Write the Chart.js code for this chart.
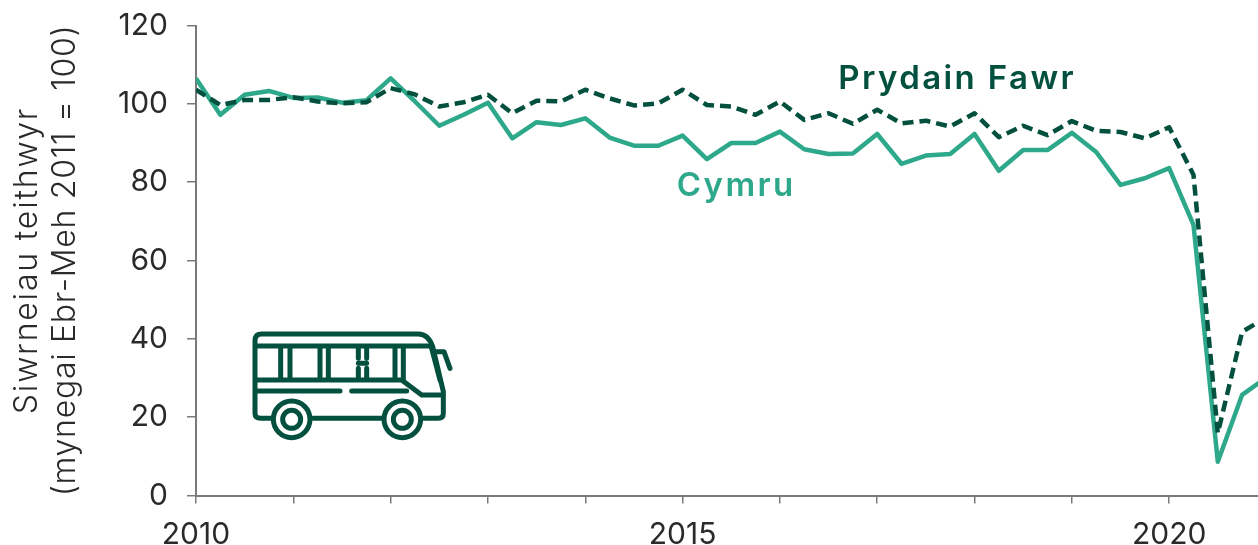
<!DOCTYPE html>
<html><head><meta charset="utf-8">
<style>html,body{margin:0;padding:0;background:#fff;overflow:hidden}#w{position:relative;width:1258px;height:545px}canvas{display:block}svg{position:absolute;left:240px;top:320px}</style>
<script src="https://cdn.jsdelivr.net/npm/chart.js@4"></script></head><body>
<div id="w"><canvas id="c" width="1258" height="545"></canvas>
<svg width="220" height="130" viewBox="0 0 660 390" fill="none" stroke="#03503f" stroke-width="15" stroke-linecap="round" stroke-linejoin="round">
<path d="M95 295H62Q45 295 45 280V62Q45 42 65 42H535Q565 42 578 80L610 215V280Q610 295 595 295H550M220 295H425"/>
<path d="M48 78H570M48 180H485L545 225H608M48 213H300M335 213H500M585 95H612L630 145"/>
<path d="M122 85V175M150 85V175M240 85V175M265 85V175M355 85V115M380 85V115M355 145V175M380 145V175M355 130H380M465 85V175M490 85V178M575 85L600 180"/>
<circle cx="155" cy="298" r="55" fill="#fff"/><circle cx="155" cy="298" r="27"/>
<circle cx="487" cy="298" r="55" fill="#fff"/><circle cx="487" cy="298" r="27"/>
</svg></div>
<script>
const startYear = 2010;
const labelledYears = [2010, 2015, 2020];
const yTicks = [0, 20, 40, 60, 80, 100, 120];
const quarters = Array.from({length: 45}, (_, i) => startYear + i / 4);
const cymru = [106.5,97.2,102.3,103.3,101.5,101.6,100.3,100.9,106.5,100.6,94.4,97.2,100.3,91.2,95.3,94.6,96.3,91.4,89.3,89.3,91.9,85.9,90,90,92.9,88.4,87.2,87.3,92.3,84.7,86.8,87.2,92.3,82.9,88.2,88.2,92.6,87.7,79.3,81,83.6,69.1,8.6,25.7,30.1];
const prydain = [103.6,99.7,101,101,101.7,100.6,100.1,100.4,104,102.4,99.3,100.4,102.3,97.6,100.8,100.6,103.6,101.4,99.6,100.1,103.6,99.7,99.3,97.2,100.6,95.9,97.6,94.9,98.5,95,95.7,94.2,97.6,91.5,94.4,92,95.6,93.1,92.8,91.2,94,81.9,15.9,41.8,45.5];
const yTitleLines = ['Siwrneiau teithwyr', '(mynegai Ebr-Meh 2011 = 100)'];
const DARK = '#03503f', GREEN = '#2ea88a', TXT = '#2a2a2a', AXIS = '#7a7a7a';
const FONT = 'Inter, sans-serif';
const toPts = a => a.map((v, i) => ({x: quarters[i], y: v}));
const textLayer = {
  id: 'textLayer',
  afterDatasetsDraw(ch) {
    const {ctx, scales: {x, y}} = ch;
    ctx.save();
    ctx.textAlign = 'left'; ctx.textBaseline = 'middle';
    ctx.font = '600 33px ' + FONT;
    ctx.letterSpacing = '2.4px';
    ctx.fillStyle = DARK; ctx.fillText('Prydain Fawr', x.getPixelForValue(2016.6), y.getPixelForValue(106.2));
    ctx.fillStyle = GREEN; ctx.fillText('Cymru', x.getPixelForValue(2015 - 0.06), y.getPixelForValue(79));
    ctx.restore();
    const cy = (y.top + y.bottom) / 2;
    [[37, 1.8], [75, 0.7]].forEach(([bx, sp], i) => {
      ctx.save();
      ctx.translate(bx, cy);
      ctx.rotate(-Math.PI / 2);
      ctx.textAlign = 'center'; ctx.textBaseline = 'alphabetic';
      ctx.font = '300 32px ' + FONT;
      ctx.letterSpacing = sp + 'px';
      ctx.fillStyle = TXT;
      ctx.fillText(yTitleLines[i], 0, 0);
      ctx.restore();
    });
  }
};
new Chart(document.getElementById('c'), {
  type: 'line',
  data: {datasets: [
    {label: 'Prydain Fawr', data: toPts(prydain), borderColor: DARK, borderWidth: 4.5, borderDash: [11, 6], pointRadius: 0, tension: 0, borderJoinStyle: 'round'},
    {label: 'Cymru', data: toPts(cymru), borderColor: GREEN, borderWidth: 4.5, pointRadius: 0, tension: 0, borderJoinStyle: 'round'}
  ]},
  plugins: [textLayer],
  options: {
    responsive: false, animation: false,
    layout: {padding: {top: 25.5, left: 0, right: 0, bottom: 0}},
    plugins: {legend: {display: false}, tooltip: {enabled: false}},
    scales: {
      x: {
        type: 'linear', min: 2010, max: 2020.913,
        afterFit(s) { s.height = 49.5; s.paddingLeft = 0; s.paddingRight = 0; },
        afterBuildTicks(s) { s.ticks = Array.from({length: 11}, (_, i) => ({value: startYear + i})); },
        grid: {display: true, drawOnChartArea: false, drawTicks: true, tickLength: 8, color: AXIS, lineWidth: 1.5},
        border: {color: AXIS, width: 2},
        ticks: {autoSkip: false, maxRotation: 0, padding: 13, color: TXT, font: {family: FONT, size: 30},
          callback: v => labelledYears.includes(v) ? String(v) : ''}
      },
      y: {
        min: 0, max: 120,
        afterFit(s) { s.width = 196; s.paddingTop = 0; s.paddingBottom = 0; },
        afterBuildTicks(s) { s.ticks = yTicks.map(v => ({value: v})); },
        grid: {display: true, drawOnChartArea: false, tickLength: 9, color: AXIS, lineWidth: 1.5},
        border: {color: AXIS, width: 2},
        ticks: {padding: 19, color: TXT, font: {family: FONT, size: 30}}
      }
    }
  }
});
</script></body></html>
